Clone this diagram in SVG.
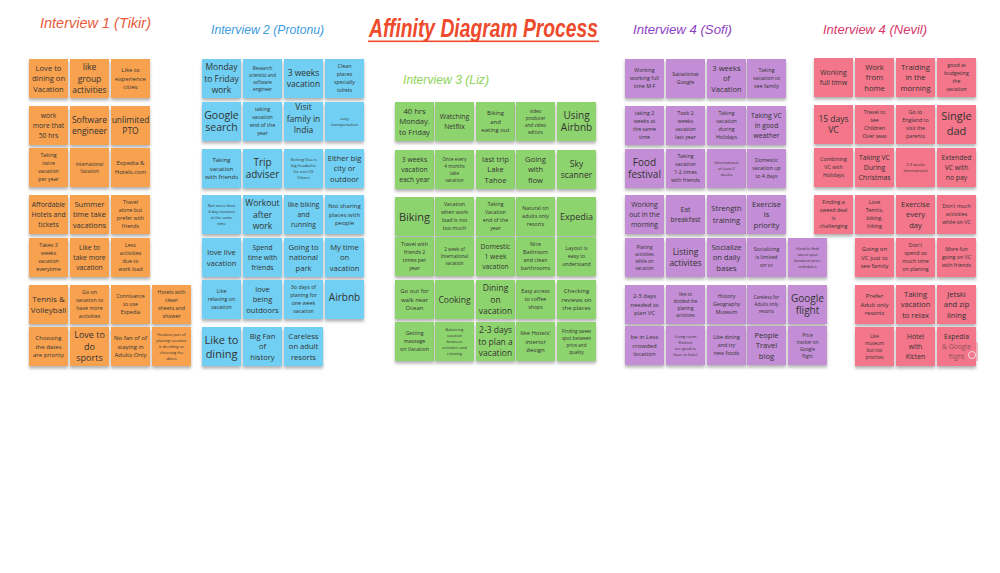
<svg xmlns="http://www.w3.org/2000/svg" width="1000" height="573" viewBox="0 0 1000 573">
<defs>
<filter id="sh" x="-20%" y="-20%" width="140%" height="150%"><feDropShadow dx="0" dy="2.5" stdDeviation="1.4" flood-color="#000" flood-opacity="0.3"/></filter>
</defs>
<style>
rect.n{filter:url(#sh)}
.or rect{fill:#F8A24F}
.bl rect{fill:#6FCFF2}
.gr rect{fill:#8ED46E}
.pu rect{fill:#C38ED6}
.rd rect{fill:#F3768A}
text{font-family:"Open Sans","Noto Sans",sans-serif;fill:#333;text-anchor:middle}
.a{font-size:4px}.b{font-size:4.6px}.c{font-size:5.3px}.d{font-size:6px}.e{font-size:6.8px}.f{font-size:7.6px}.g{font-size:8.5px}.h{font-size:10px}.i{font-size:11px}
#titles text{font-family:"Liberation Sans","Noto Sans",sans-serif;font-style:italic;text-anchor:start}
#titles .t1{fill:#E85A3C}
#titles .t2{fill:#3D9BE0}
#titles .t0{fill:#EE4A2C;font-weight:bold}
#titles .t3{fill:#8FD45A}
#titles .t4{fill:#8E3FC4}
#titles .t5{fill:#D8386A}
</style>
<rect width="1000" height="573" fill="#fff"/>
<g id="titles">
<text class="t1" x="40" y="28" font-size="14.5" textLength="111" lengthAdjust="spacingAndGlyphs">Interview 1 (Tikir)</text>
<text class="t2" x="211" y="34" font-size="12.2" textLength="113" lengthAdjust="spacingAndGlyphs">Interview 2 (Protonu)</text>
<text class="t0" transform="translate(369,37) scale(1,1.4)" x="0" y="0" font-size="18.6" textLength="229" lengthAdjust="spacingAndGlyphs">Affinity Diagram Process</text>
<rect x="368" y="40.5" width="231" height="1.6" fill="#EE4A2C"/>
<text class="t3" x="403" y="84" font-size="12.2" textLength="86" lengthAdjust="spacingAndGlyphs">Interview 3 (Liz)</text>
<text class="t4" x="633" y="34" font-size="13.2" textLength="99" lengthAdjust="spacingAndGlyphs">Interview 4 (Sofi)</text>
<text class="t5" x="823" y="34" font-size="13" textLength="104" lengthAdjust="spacingAndGlyphs">Interview 4 (Nevil)</text>
</g>
<g id="interview1" class="or">
<g id="o1"><rect class="n" x="29" y="59" width="39" height="39"/><text class="f" x="48.5" y="70.6"><tspan x="48.5">Love to</tspan><tspan x="48.5" dy="10.6">dining on</tspan><tspan x="48.5" dy="10.6">Vacation</tspan></text></g>
<g id="o2"><rect class="n" x="70" y="59" width="39" height="39"/><text class="g" x="89.5" y="70.4"><tspan x="89.5">like</tspan><tspan x="89.5" dy="11.2">group</tspan><tspan x="89.5" dy="11.2">activities</tspan></text></g>
<g id="o3"><rect class="n" x="111" y="59" width="39" height="39"/><text class="d" x="130.5" y="72.1"><tspan x="130.5">Like to</tspan><tspan x="130.5" dy="8.6">experience</tspan><tspan x="130.5" dy="8.6">cities</tspan></text></g>
<g id="o4"><rect class="n" x="29" y="106" width="39" height="39"/><text class="e" x="48.5" y="118.3"><tspan x="48.5">work</tspan><tspan x="48.5" dy="9.6">more that</tspan><tspan x="48.5" dy="9.6">50 hrs</tspan></text></g>
<g id="o5"><rect class="n" x="70" y="106" width="39" height="39"/><text class="g" x="89.5" y="123"><tspan x="89.5">Software</tspan><tspan x="89.5" dy="11.2">engineer</tspan></text></g>
<g id="o6"><rect class="n" x="111" y="106" width="39" height="39"/><text class="g" x="130.5" y="123"><tspan x="130.5">unlimited</tspan><tspan x="130.5" dy="11.2">PTO</tspan></text></g>
<g id="o7"><rect class="n" x="29" y="148" width="39" height="39"/><text class="c" x="48.5" y="157.4"><tspan x="48.5">Taking</tspan><tspan x="48.5" dy="8">twice</tspan><tspan x="48.5" dy="8">vacation</tspan><tspan x="48.5" dy="8">per year</tspan></text></g>
<g id="o8"><rect class="n" x="70" y="148" width="39" height="39"/><text class="b" x="89.5" y="165.7"><tspan x="89.5">International</tspan><tspan x="89.5" dy="7">Vacation</tspan></text></g>
<g id="o9"><rect class="n" x="111" y="148" width="39" height="39"/><text class="d" x="130.5" y="165.4"><tspan x="130.5">Expedia &amp;</tspan><tspan x="130.5" dy="8.6">Hotels.com</tspan></text></g>
<g id="o10"><rect class="n" x="29" y="195" width="39" height="39"/><text class="e" x="48.5" y="207.3"><tspan x="48.5">Affordable</tspan><tspan x="48.5" dy="9.6">Hotels and</tspan><tspan x="48.5" dy="9.6">tickets</tspan></text></g>
<g id="o11"><rect class="n" x="70" y="195" width="39" height="39"/><text class="f" x="89.5" y="206.6"><tspan x="89.5">Summer</tspan><tspan x="89.5" dy="10.6">time take</tspan><tspan x="89.5" dy="10.6">vacations</tspan></text></g>
<g id="o12"><rect class="n" x="111" y="195" width="39" height="39"/><text class="c" x="130.5" y="204.4"><tspan x="130.5">Travel</tspan><tspan x="130.5" dy="8">alone but</tspan><tspan x="130.5" dy="8">prefer with</tspan><tspan x="130.5" dy="8">friends</tspan></text></g>
<g id="o13"><rect class="n" x="29" y="238" width="39" height="39"/><text class="c" x="48.5" y="247.4"><tspan x="48.5">Takes 3</tspan><tspan x="48.5" dy="8">weeks</tspan><tspan x="48.5" dy="8">vacation</tspan><tspan x="48.5" dy="8">everytime</tspan></text></g>
<g id="o14"><rect class="n" x="70" y="238" width="39" height="39"/><text class="e" x="89.5" y="250.3"><tspan x="89.5">Like to</tspan><tspan x="89.5" dy="9.6">take more</tspan><tspan x="89.5" dy="9.6">vacation</tspan></text></g>
<g id="o15"><rect class="n" x="111" y="238" width="39" height="39"/><text class="c" x="130.5" y="247.4"><tspan x="130.5">Less</tspan><tspan x="130.5" dy="8">activities</tspan><tspan x="130.5" dy="8">due to</tspan><tspan x="130.5" dy="8">work load</tspan></text></g>
<g id="o16"><rect class="n" x="29" y="285" width="39" height="39"/><text class="g" x="48.5" y="302" style="font-size:8px"><tspan x="48.5">Tennis &amp;</tspan><tspan x="48.5" dy="11.2">Volleyball</tspan></text></g>
<g id="o17"><rect class="n" x="70" y="285" width="39" height="39"/><text class="c" x="89.5" y="294.4"><tspan x="89.5">Go on</tspan><tspan x="89.5" dy="8">vacation to</tspan><tspan x="89.5" dy="8">have more</tspan><tspan x="89.5" dy="8">activities</tspan></text></g>
<g id="o18"><rect class="n" x="111" y="285" width="39" height="39"/><text class="c" x="130.5" y="298.4"><tspan x="130.5">Connivance</tspan><tspan x="130.5" dy="8">to use</tspan><tspan x="130.5" dy="8">Expedia</tspan></text></g>
<g id="o19"><rect class="n" x="152" y="285" width="39" height="39"/><text class="c" x="171.5" y="294.4"><tspan x="171.5">Hotels with</tspan><tspan x="171.5" dy="8">clean</tspan><tspan x="171.5" dy="8">sheets and</tspan><tspan x="171.5" dy="8">shower</tspan></text></g>
<g id="o20"><rect class="n" x="29" y="327" width="39" height="39"/><text class="d" x="48.5" y="340.1"><tspan x="48.5">Choosing</tspan><tspan x="48.5" dy="8.6">the dates</tspan><tspan x="48.5" dy="8.6">are priority</tspan></text></g>
<g id="o21"><rect class="n" x="70" y="327" width="39" height="39"/><text class="g" x="89.5" y="338.4" style="font-size:9px"><tspan x="89.5">Love to</tspan><tspan x="89.5" dy="11.2">do</tspan><tspan x="89.5" dy="11.2">sports</tspan></text></g>
<g id="o22"><rect class="n" x="111" y="327" width="39" height="39"/><text class="d" x="130.5" y="340.1"><tspan x="130.5">No fan of of</tspan><tspan x="130.5" dy="8.6">staying in</tspan><tspan x="130.5" dy="8.6">Adults Only</tspan></text></g>
<g id="o23"><rect class="n" x="152" y="327" width="39" height="39"/><text class="a" x="171.5" y="335.9"><tspan x="171.5">Hardest part of</tspan><tspan x="171.5" dy="6">planing vacation</tspan><tspan x="171.5" dy="6">is deciding on</tspan><tspan x="171.5" dy="6">choosing the</tspan><tspan x="171.5" dy="6">dates</tspan></text></g>
</g>
<g id="interview2" class="bl">
<g id="b1"><rect class="n" x="202" y="59" width="39" height="39"/><text class="g" x="221.5" y="70.4"><tspan x="221.5">Monday</tspan><tspan x="221.5" dy="11.2">to Friday</tspan><tspan x="221.5" dy="11.2">work</tspan></text></g>
<g id="b2"><rect class="n" x="243" y="59" width="39" height="39"/><text class="b" x="262.5" y="69.7"><tspan x="262.5">Research</tspan><tspan x="262.5" dy="7">scientist and</tspan><tspan x="262.5" dy="7">software</tspan><tspan x="262.5" dy="7">engineer</tspan></text></g>
<g id="b3"><rect class="n" x="284" y="59" width="39" height="39"/><text class="g" x="303.5" y="76"><tspan x="303.5">3 weeks</tspan><tspan x="303.5" dy="11.2">vacation</tspan></text></g>
<g id="b4"><rect class="n" x="325" y="59" width="39" height="39"/><text class="c" x="344.5" y="68.4"><tspan x="344.5">Clean</tspan><tspan x="344.5" dy="8">places</tspan><tspan x="344.5" dy="8">specially</tspan><tspan x="344.5" dy="8">toilets</tspan></text></g>
<g id="b5"><rect class="n" x="202" y="102" width="39" height="39"/><text class="h" x="221.5" y="118.8" style="font-size:10.5px"><tspan x="221.5">Google</tspan><tspan x="221.5" dy="12.5">search</tspan></text></g>
<g id="b6"><rect class="n" x="243" y="102" width="39" height="39"/><text class="c" x="262.5" y="111.4"><tspan x="262.5">taking</tspan><tspan x="262.5" dy="8">vacation</tspan><tspan x="262.5" dy="8">end of the</tspan><tspan x="262.5" dy="8">year</tspan></text></g>
<g id="b7"><rect class="n" x="284" y="102" width="39" height="39"/><text class="g" x="303.5" y="110.4"><tspan x="303.5">Visit</tspan><tspan x="303.5" dy="11.2">family in</tspan><tspan x="303.5" dy="11.2">India</tspan></text></g>
<g id="b8"><rect class="n" x="325" y="102" width="39" height="39"/><text class="a" x="344.5" y="119.9"><tspan x="344.5">easy</tspan><tspan x="344.5" dy="6">transportation</tspan></text></g>
<g id="b9"><rect class="n" x="202" y="149" width="39" height="39"/><text class="d" x="221.5" y="162.1"><tspan x="221.5">Taking</tspan><tspan x="221.5" dy="8.6">vacation</tspan><tspan x="221.5" dy="8.6">with friends</tspan></text></g>
<g id="b10"><rect class="n" x="243" y="149" width="39" height="39"/><text class="h" x="262.5" y="165.8"><tspan x="262.5">Trip</tspan><tspan x="262.5" dy="12.5">adviser</tspan></text></g>
<g id="b11"><rect class="n" x="284" y="149" width="39" height="39"/><text class="a" x="303.5" y="160.9"><tspan x="303.5">Getting Visa is</tspan><tspan x="303.5" dy="6">big headache</tspan><tspan x="303.5" dy="6">for non US</tspan><tspan x="303.5" dy="6">Citizen</tspan></text></g>
<g id="b12"><rect class="n" x="325" y="149" width="39" height="39"/><text class="f" x="344.5" y="160.6"><tspan x="344.5">Either big</tspan><tspan x="344.5" dy="10.6">city or</tspan><tspan x="344.5" dy="10.6">outdoor</tspan></text></g>
<g id="b13"><rect class="n" x="202" y="195" width="39" height="39"/><text class="a" x="221.5" y="206.9"><tspan x="221.5">Not more than</tspan><tspan x="221.5" dy="6">4 day vacation</tspan><tspan x="221.5" dy="6">at the same</tspan><tspan x="221.5" dy="6">time</tspan></text></g>
<g id="b14"><rect class="n" x="243" y="195" width="39" height="39"/><text class="g" x="262.5" y="206.4"><tspan x="262.5">Workout</tspan><tspan x="262.5" dy="11.2">after</tspan><tspan x="262.5" dy="11.2">work</tspan></text></g>
<g id="b15"><rect class="n" x="284" y="195" width="39" height="39"/><text class="e" x="303.5" y="207.3"><tspan x="303.5">like biking</tspan><tspan x="303.5" dy="9.6">and</tspan><tspan x="303.5" dy="9.6">running</tspan></text></g>
<g id="b16"><rect class="n" x="325" y="195" width="39" height="39"/><text class="d" x="344.5" y="208.1"><tspan x="344.5">Not sharing</tspan><tspan x="344.5" dy="8.6">places with</tspan><tspan x="344.5" dy="8.6">people</tspan></text></g>
<g id="b17"><rect class="n" x="202" y="238" width="39" height="39"/><text class="f" x="221.5" y="254.9"><tspan x="221.5">love live</tspan><tspan x="221.5" dy="10.6">vacation</tspan></text></g>
<g id="b18"><rect class="n" x="243" y="238" width="39" height="39"/><text class="e" x="262.5" y="250.3"><tspan x="262.5">Spend</tspan><tspan x="262.5" dy="9.6">time with</tspan><tspan x="262.5" dy="9.6">friends</tspan></text></g>
<g id="b19"><rect class="n" x="284" y="238" width="39" height="39"/><text class="f" x="303.5" y="249.6"><tspan x="303.5">Going to</tspan><tspan x="303.5" dy="10.6">national</tspan><tspan x="303.5" dy="10.6">park</tspan></text></g>
<g id="b20"><rect class="n" x="325" y="238" width="39" height="39"/><text class="f" x="344.5" y="249.6"><tspan x="344.5">My time</tspan><tspan x="344.5" dy="10.6">on</tspan><tspan x="344.5" dy="10.6">vacation</tspan></text></g>
<g id="b21"><rect class="n" x="202" y="280" width="39" height="39"/><text class="c" x="221.5" y="293.4"><tspan x="221.5">Like</tspan><tspan x="221.5" dy="8">relaxing on</tspan><tspan x="221.5" dy="8">vacation</tspan></text></g>
<g id="b22"><rect class="n" x="243" y="280" width="39" height="39"/><text class="f" x="262.5" y="291.6"><tspan x="262.5">love</tspan><tspan x="262.5" dy="10.6">being</tspan><tspan x="262.5" dy="10.6">outdoors</tspan></text></g>
<g id="b23"><rect class="n" x="284" y="280" width="39" height="39"/><text class="c" x="303.5" y="289.4"><tspan x="303.5">3o days of</tspan><tspan x="303.5" dy="8">planing for</tspan><tspan x="303.5" dy="8">one week</tspan><tspan x="303.5" dy="8">vacation</tspan></text></g>
<g id="b24"><rect class="n" x="325" y="280" width="39" height="39"/><text class="h" x="344.5" y="300.5"><tspan x="344.5">Airbnb</tspan></text></g>
<g id="b25"><rect class="n" x="202" y="327" width="39" height="39"/><text class="i" x="221.5" y="343.5"><tspan x="221.5">Like to</tspan><tspan x="221.5" dy="14">dining</tspan></text></g>
<g id="b26"><rect class="n" x="243" y="327" width="39" height="39"/><text class="f" x="262.5" y="338.6"><tspan x="262.5">Big Fan</tspan><tspan x="262.5" dy="10.6">of</tspan><tspan x="262.5" dy="10.6">history</tspan></text></g>
<g id="b27"><rect class="n" x="284" y="327" width="39" height="39"/><text class="f" x="303.5" y="338.6"><tspan x="303.5">Careless</tspan><tspan x="303.5" dy="10.6">on adult</tspan><tspan x="303.5" dy="10.6">resorts</tspan></text></g>
</g>
<g id="interview3" class="gr">
<g id="g1"><rect class="n" x="395" y="102" width="39" height="39"/><text class="f" x="414.5" y="113.6"><tspan x="414.5">40 hrs</tspan><tspan x="414.5" dy="10.6">Monday.</tspan><tspan x="414.5" dy="10.6">to Friday</tspan></text></g>
<g id="g2"><rect class="n" x="435" y="102" width="39" height="39"/><text class="e" x="454.5" y="119.1"><tspan x="454.5">Watching</tspan><tspan x="454.5" dy="9.6">Netflix</tspan></text></g>
<g id="g3"><rect class="n" x="476" y="102" width="39" height="39"/><text class="d" x="495.5" y="115.1"><tspan x="495.5">Biking</tspan><tspan x="495.5" dy="8.6">and</tspan><tspan x="495.5" dy="8.6">eating out</tspan></text></g>
<g id="g4"><rect class="n" x="516" y="102" width="39" height="39"/><text class="b" x="535.5" y="112.7"><tspan x="535.5">video</tspan><tspan x="535.5" dy="7">producer</tspan><tspan x="535.5" dy="7">and video</tspan><tspan x="535.5" dy="7">editors</tspan></text></g>
<g id="g5"><rect class="n" x="557" y="102" width="39" height="39"/><text class="h" x="576.5" y="118.8"><tspan x="576.5">Using</tspan><tspan x="576.5" dy="12.5">Airbnb</tspan></text></g>
<g id="g6"><rect class="n" x="395" y="150" width="39" height="39"/><text class="e" x="414.5" y="162.3"><tspan x="414.5">3 weeks</tspan><tspan x="414.5" dy="9.6">vacation</tspan><tspan x="414.5" dy="9.6">each year</tspan></text></g>
<g id="g7"><rect class="n" x="435" y="150" width="39" height="39"/><text class="b" x="454.5" y="160.7"><tspan x="454.5">Once every</tspan><tspan x="454.5" dy="7">4 months</tspan><tspan x="454.5" dy="7">take</tspan><tspan x="454.5" dy="7">vacation</tspan></text></g>
<g id="g8"><rect class="n" x="476" y="150" width="39" height="39"/><text class="f" x="495.5" y="161.6"><tspan x="495.5">last trip</tspan><tspan x="495.5" dy="10.6">Lake</tspan><tspan x="495.5" dy="10.6">Tahoe</tspan></text></g>
<g id="g9"><rect class="n" x="516" y="150" width="39" height="39"/><text class="f" x="535.5" y="161.6"><tspan x="535.5">Going</tspan><tspan x="535.5" dy="10.6">with</tspan><tspan x="535.5" dy="10.6">flow</tspan></text></g>
<g id="g10"><rect class="n" x="557" y="150" width="39" height="39"/><text class="g" x="576.5" y="167"><tspan x="576.5">Sky</tspan><tspan x="576.5" dy="11.2">scanner</tspan></text></g>
<g id="g11"><rect class="n" x="395" y="197" width="39" height="39"/><text class="i" x="414.5" y="220.5"><tspan x="414.5">Biking</tspan></text></g>
<g id="g12"><rect class="n" x="435" y="197" width="39" height="39"/><text class="c" x="454.5" y="206.4"><tspan x="454.5">Vacation</tspan><tspan x="454.5" dy="8">when work</tspan><tspan x="454.5" dy="8">load is not</tspan><tspan x="454.5" dy="8">too much</tspan></text></g>
<g id="g13"><rect class="n" x="476" y="197" width="39" height="39"/><text class="c" x="495.5" y="206.4"><tspan x="495.5">Taking</tspan><tspan x="495.5" dy="8">Vacation</tspan><tspan x="495.5" dy="8">end of the</tspan><tspan x="495.5" dy="8">year</tspan></text></g>
<g id="g14"><rect class="n" x="516" y="197" width="39" height="39"/><text class="c" x="535.5" y="210.4"><tspan x="535.5">Natural on</tspan><tspan x="535.5" dy="8">adults only</tspan><tspan x="535.5" dy="8">resorts</tspan></text></g>
<g id="g15"><rect class="n" x="557" y="197" width="39" height="39"/><text class="g" x="576.5" y="219.6" style="font-size:9px"><tspan x="576.5">Expedia</tspan></text></g>
<g id="g16"><rect class="n" x="395" y="237" width="39" height="39"/><text class="c" x="414.5" y="246.4"><tspan x="414.5">Travel with</tspan><tspan x="414.5" dy="8">friends 2</tspan><tspan x="414.5" dy="8">times per</tspan><tspan x="414.5" dy="8">year</tspan></text></g>
<g id="g17"><rect class="n" x="435" y="237" width="39" height="39"/><text class="b" x="454.5" y="251.2"><tspan x="454.5">2 week of</tspan><tspan x="454.5" dy="7">International</tspan><tspan x="454.5" dy="7">vacation</tspan></text></g>
<g id="g18"><rect class="n" x="476" y="237" width="39" height="39"/><text class="e" x="495.5" y="249.3"><tspan x="495.5">Domestic</tspan><tspan x="495.5" dy="9.6">1 week</tspan><tspan x="495.5" dy="9.6">vacation</tspan></text></g>
<g id="g19"><rect class="n" x="516" y="237" width="39" height="39"/><text class="c" x="535.5" y="246.4"><tspan x="535.5">Nice</tspan><tspan x="535.5" dy="8">Bathroom</tspan><tspan x="535.5" dy="8">and clean</tspan><tspan x="535.5" dy="8">barthrooms</tspan></text></g>
<g id="g20"><rect class="n" x="557" y="237" width="39" height="39"/><text class="c" x="576.5" y="250.4"><tspan x="576.5">Layout is</tspan><tspan x="576.5" dy="8">easy to</tspan><tspan x="576.5" dy="8">understand</tspan></text></g>
<g id="g21"><rect class="n" x="395" y="280" width="39" height="39"/><text class="d" x="414.5" y="293.1"><tspan x="414.5">Go out for</tspan><tspan x="414.5" dy="8.6">walk near</tspan><tspan x="414.5" dy="8.6">Ocean</tspan></text></g>
<g id="g22"><rect class="n" x="435" y="280" width="39" height="39"/><text class="g" x="454.5" y="302.6"><tspan x="454.5">Cooking</tspan></text></g>
<g id="g23"><rect class="n" x="476" y="280" width="39" height="39"/><text class="g" x="495.5" y="291.4"><tspan x="495.5">Dining</tspan><tspan x="495.5" dy="11.2">on</tspan><tspan x="495.5" dy="11.2">vacation</tspan></text></g>
<g id="g24"><rect class="n" x="516" y="280" width="39" height="39"/><text class="c" x="535.5" y="293.4"><tspan x="535.5">Easy access</tspan><tspan x="535.5" dy="8">to coffee</tspan><tspan x="535.5" dy="8">shops</tspan></text></g>
<g id="g25"><rect class="n" x="557" y="280" width="39" height="39"/><text class="d" x="576.5" y="293.1"><tspan x="576.5">Checking</tspan><tspan x="576.5" dy="8.6">reviews on</tspan><tspan x="576.5" dy="8.6">the places</tspan></text></g>
<g id="g26"><rect class="n" x="395" y="322" width="39" height="39"/><text class="c" x="414.5" y="335.4"><tspan x="414.5">Getting</tspan><tspan x="414.5" dy="8">massage</tspan><tspan x="414.5" dy="8">on Vacation</tspan></text></g>
<g id="g27"><rect class="n" x="435" y="322" width="39" height="39"/><text class="a" x="454.5" y="330.9"><tspan x="454.5">Balancing</tspan><tspan x="454.5" dy="6">vacation</tspan><tspan x="454.5" dy="6">between</tspan><tspan x="454.5" dy="6">activities and</tspan><tspan x="454.5" dy="6">relaxing</tspan></text></g>
<g id="g28"><rect class="n" x="476" y="322" width="39" height="39"/><text class="g" x="495.5" y="333.4"><tspan x="495.5">2-3 days</tspan><tspan x="495.5" dy="11.2">to plan a</tspan><tspan x="495.5" dy="11.2">vacation</tspan></text></g>
<g id="g29"><rect class="n" x="516" y="322" width="39" height="39"/><text class="d" x="535.5" y="335.1"><tspan x="535.5">like Hotels'</tspan><tspan x="535.5" dy="8.6">interior</tspan><tspan x="535.5" dy="8.6">design</tspan></text></g>
<g id="g30"><rect class="n" x="557" y="322" width="39" height="39"/><text class="b" x="576.5" y="332.7"><tspan x="576.5">Finding sweet</tspan><tspan x="576.5" dy="7">spot between</tspan><tspan x="576.5" dy="7">price and</tspan><tspan x="576.5" dy="7">quality</tspan></text></g>
</g>
<g id="interview4sofi" class="pu">
<g id="p1"><rect class="n" x="625" y="59" width="39" height="39"/><text class="c" x="644.5" y="72.4"><tspan x="644.5">Working</tspan><tspan x="644.5" dy="8">working full</tspan><tspan x="644.5" dy="8">time M-F</tspan></text></g>
<g id="p2"><rect class="n" x="666" y="59" width="39" height="39"/><text class="c" x="685.5" y="76.4"><tspan x="685.5">Satiationat</tspan><tspan x="685.5" dy="8">Google</tspan></text></g>
<g id="p3"><rect class="n" x="707" y="59" width="39" height="39"/><text class="f" x="726.5" y="70.6"><tspan x="726.5">3 weeks</tspan><tspan x="726.5" dy="10.6">of</tspan><tspan x="726.5" dy="10.6">Vacation</tspan></text></g>
<g id="p4"><rect class="n" x="747" y="59" width="39" height="39"/><text class="c" x="766.5" y="72.4"><tspan x="766.5">Taking</tspan><tspan x="766.5" dy="8">vacation to</tspan><tspan x="766.5" dy="8">see family</tspan></text></g>
<g id="p5"><rect class="n" x="625" y="106" width="39" height="39"/><text class="c" x="644.5" y="115.4"><tspan x="644.5">taking 2</tspan><tspan x="644.5" dy="8">weeks at</tspan><tspan x="644.5" dy="8">the same</tspan><tspan x="644.5" dy="8">time</tspan></text></g>
<g id="p6"><rect class="n" x="666" y="106" width="39" height="39"/><text class="c" x="685.5" y="115.4"><tspan x="685.5">Took 2</tspan><tspan x="685.5" dy="8">weeks</tspan><tspan x="685.5" dy="8">vacation</tspan><tspan x="685.5" dy="8">last year</tspan></text></g>
<g id="p7"><rect class="n" x="707" y="106" width="39" height="39"/><text class="c" x="726.5" y="115.4"><tspan x="726.5">Taking</tspan><tspan x="726.5" dy="8">vacation</tspan><tspan x="726.5" dy="8">during</tspan><tspan x="726.5" dy="8">Holidays</tspan></text></g>
<g id="p8"><rect class="n" x="747" y="106" width="39" height="39"/><text class="e" x="766.5" y="118.3"><tspan x="766.5">Taking VC</tspan><tspan x="766.5" dy="9.6">in good</tspan><tspan x="766.5" dy="9.6">weather</tspan></text></g>
<g id="p9"><rect class="n" x="625" y="149" width="39" height="39"/><text class="h" x="644.5" y="165.8"><tspan x="644.5">Food</tspan><tspan x="644.5" dy="12.5">festival</tspan></text></g>
<g id="p10"><rect class="n" x="666" y="149" width="39" height="39"/><text class="c" x="685.5" y="158.4"><tspan x="685.5">Taking</tspan><tspan x="685.5" dy="8">vacation</tspan><tspan x="685.5" dy="8">1-2 times</tspan><tspan x="685.5" dy="8">with friends</tspan></text></g>
<g id="p11"><rect class="n" x="707" y="149" width="39" height="39"/><text class="a" x="726.5" y="163.9"><tspan x="726.5">International</tspan><tspan x="726.5" dy="6">at least 2</tspan><tspan x="726.5" dy="6">weeks</tspan></text></g>
<g id="p12"><rect class="n" x="747" y="149" width="39" height="39"/><text class="c" x="766.5" y="162.4"><tspan x="766.5">Domestic</tspan><tspan x="766.5" dy="8">vacation up</tspan><tspan x="766.5" dy="8">to 4 days</tspan></text></g>
<g id="p13"><rect class="n" x="625" y="195" width="39" height="39"/><text class="e" x="644.5" y="207.3"><tspan x="644.5">Working</tspan><tspan x="644.5" dy="9.6">out in the</tspan><tspan x="644.5" dy="9.6">morning</tspan></text></g>
<g id="p14"><rect class="n" x="666" y="195" width="39" height="39"/><text class="e" x="685.5" y="211.6"><tspan x="685.5">Eat</tspan><tspan x="685.5" dy="10.6">breakfast</tspan></text></g>
<g id="p15"><rect class="n" x="707" y="195" width="39" height="39"/><text class="f" x="726.5" y="211"><tspan x="726.5">Strength</tspan><tspan x="726.5" dy="11.5">training</tspan></text></g>
<g id="p16"><rect class="n" x="747" y="195" width="39" height="39"/><text class="f" x="766.5" y="206.6"><tspan x="766.5">Exercise</tspan><tspan x="766.5" dy="10.6">is</tspan><tspan x="766.5" dy="10.6">priority</tspan></text></g>
<g id="p17"><rect class="n" x="625" y="238" width="39" height="39"/><text class="b" x="644.5" y="248.7"><tspan x="644.5">Planing</tspan><tspan x="644.5" dy="7">activities</tspan><tspan x="644.5" dy="7">while on</tspan><tspan x="644.5" dy="7">vacation</tspan></text></g>
<g id="p18"><rect class="n" x="666" y="238" width="39" height="39"/><text class="g" x="685.5" y="255"><tspan x="685.5">Listing</tspan><tspan x="685.5" dy="11.2">activites</tspan></text></g>
<g id="p19"><rect class="n" x="707" y="238" width="39" height="39"/><text class="f" x="726.5" y="249.6"><tspan x="726.5">Socialize</tspan><tspan x="726.5" dy="10.6">on daily</tspan><tspan x="726.5" dy="10.6">bases</tspan></text></g>
<g id="p20"><rect class="n" x="747" y="238" width="39" height="39"/><text class="c" x="766.5" y="251.4"><tspan x="766.5">Socializing</tspan><tspan x="766.5" dy="8">is limited</tspan><tspan x="766.5" dy="8">on vc</tspan></text></g>
<g id="p21"><rect class="n" x="788" y="238" width="39" height="39"/><text class="a" x="807.5" y="249.9"><tspan x="807.5">Hard to find</tspan><tspan x="807.5" dy="6">sweet spot</tspan><tspan x="807.5" dy="6">between price</tspan><tspan x="807.5" dy="6">and dates</tspan></text></g>
<g id="p22"><rect class="n" x="625" y="285" width="39" height="39"/><text class="d" x="644.5" y="298.1"><tspan x="644.5">2-3 days</tspan><tspan x="644.5" dy="8.6">needed to</tspan><tspan x="644.5" dy="8.6">plan VC</tspan></text></g>
<g id="p23"><rect class="n" x="666" y="285" width="39" height="39"/><text class="b" x="685.5" y="295.7"><tspan x="685.5">like to</tspan><tspan x="685.5" dy="7">divided the</tspan><tspan x="685.5" dy="7">planing</tspan><tspan x="685.5" dy="7">activities</tspan></text></g>
<g id="p24"><rect class="n" x="707" y="285" width="39" height="39"/><text class="c" x="726.5" y="298.4"><tspan x="726.5">History</tspan><tspan x="726.5" dy="8">Geography</tspan><tspan x="726.5" dy="8">Museum</tspan></text></g>
<g id="p25"><rect class="n" x="747" y="285" width="39" height="39"/><text class="b" x="766.5" y="299.2"><tspan x="766.5">Careless for</tspan><tspan x="766.5" dy="7">Adults only</tspan><tspan x="766.5" dy="7">resorts</tspan></text></g>
<g id="p26"><rect class="n" x="788" y="285" width="39" height="39"/><text class="h" x="807.5" y="301.8"><tspan x="807.5">Google</tspan><tspan x="807.5" dy="12.5">flight</tspan></text></g>
<g id="p27"><rect class="n" x="625" y="326" width="39" height="39"/><text class="d" x="644.5" y="339.1"><tspan x="644.5">be in Less</tspan><tspan x="644.5" dy="8.6">crowded</tspan><tspan x="644.5" dy="8.6">location</tspan></text></g>
<g id="p28"><rect class="n" x="666" y="326" width="39" height="39"/><text class="a" x="685.5" y="337.9"><tspan x="685.5">Living room</tspan><tspan x="685.5" dy="6">Kitchen</tspan><tspan x="685.5" dy="6">are good to</tspan><tspan x="685.5" dy="6">have in hotel</tspan></text></g>
<g id="p29"><rect class="n" x="707" y="326" width="39" height="39"/><text class="c" x="726.5" y="339.4"><tspan x="726.5">Like dining</tspan><tspan x="726.5" dy="8">and try</tspan><tspan x="726.5" dy="8">new foods</tspan></text></g>
<g id="p30"><rect class="n" x="747" y="326" width="39" height="39"/><text class="f" x="766.5" y="337.6"><tspan x="766.5">People</tspan><tspan x="766.5" dy="10.6">Travel</tspan><tspan x="766.5" dy="10.6">blog</tspan></text></g>
<g id="p31"><rect class="n" x="788" y="326" width="39" height="39"/><text class="b" x="807.5" y="336.7"><tspan x="807.5">Price</tspan><tspan x="807.5" dy="7">tracker on</tspan><tspan x="807.5" dy="7">Google</tspan><tspan x="807.5" dy="7">flight</tspan></text></g>
</g>
<g id="interview4nevil" class="rd">
<g id="r1"><rect class="n" x="814" y="58" width="39" height="39"/><text class="e" x="833.5" y="75.1"><tspan x="833.5">Working</tspan><tspan x="833.5" dy="9.6">full timw</tspan></text></g>
<g id="r2"><rect class="n" x="855" y="58" width="39" height="39"/><text class="f" x="874.5" y="69.6"><tspan x="874.5">Work</tspan><tspan x="874.5" dy="10.6">from</tspan><tspan x="874.5" dy="10.6">home</tspan></text></g>
<g id="r3"><rect class="n" x="896" y="58" width="39" height="39"/><text class="f" x="915.5" y="69.6"><tspan x="915.5">Traiding</tspan><tspan x="915.5" dy="10.6">in the</tspan><tspan x="915.5" dy="10.6">morning</tspan></text></g>
<g id="r4"><rect class="n" x="937" y="58" width="39" height="39"/><text class="c" x="956.5" y="67.4"><tspan x="956.5">good at</tspan><tspan x="956.5" dy="8">budgeting</tspan><tspan x="956.5" dy="8">the</tspan><tspan x="956.5" dy="8">vacation</tspan></text></g>
<g id="r5"><rect class="n" x="814" y="105" width="39" height="39"/><text class="g" x="833.5" y="122"><tspan x="833.5">15 days</tspan><tspan x="833.5" dy="11.2">VC</tspan></text></g>
<g id="r6"><rect class="n" x="855" y="105" width="39" height="39"/><text class="c" x="874.5" y="114.4"><tspan x="874.5">Travel to</tspan><tspan x="874.5" dy="8">see</tspan><tspan x="874.5" dy="8">Children</tspan><tspan x="874.5" dy="8">Over seas</tspan></text></g>
<g id="r7"><rect class="n" x="896" y="105" width="39" height="39"/><text class="c" x="915.5" y="114.4"><tspan x="915.5">Go to</tspan><tspan x="915.5" dy="8">England to</tspan><tspan x="915.5" dy="8">visit the</tspan><tspan x="915.5" dy="8">parents</tspan></text></g>
<g id="r8"><rect class="n" x="937" y="105" width="39" height="39"/><text class="i" x="956.5" y="120"><tspan x="956.5">Single</tspan><tspan x="956.5" dy="15">dad</tspan></text></g>
<g id="r9"><rect class="n" x="814" y="148" width="39" height="39"/><text class="c" x="833.5" y="161.4"><tspan x="833.5">Combining</tspan><tspan x="833.5" dy="8">VC with</tspan><tspan x="833.5" dy="8">Holidays</tspan></text></g>
<g id="r10"><rect class="n" x="855" y="148" width="39" height="39"/><text class="e" x="874.5" y="160.3"><tspan x="874.5">Taking VC</tspan><tspan x="874.5" dy="9.6">During</tspan><tspan x="874.5" dy="9.6">Christmas</tspan></text></g>
<g id="r11"><rect class="n" x="896" y="148" width="39" height="39"/><text class="a" x="915.5" y="165.9"><tspan x="915.5">2-3 weeks</tspan><tspan x="915.5" dy="6">international</tspan></text></g>
<g id="r12"><rect class="n" x="937" y="148" width="39" height="39"/><text class="e" x="956.5" y="160.3"><tspan x="956.5">Extended</tspan><tspan x="956.5" dy="9.6">VC with</tspan><tspan x="956.5" dy="9.6">no pay</tspan></text></g>
<g id="r13"><rect class="n" x="814" y="195" width="39" height="39"/><text class="c" x="833.5" y="204.4"><tspan x="833.5">Finding a</tspan><tspan x="833.5" dy="8">sweed deal</tspan><tspan x="833.5" dy="8">is</tspan><tspan x="833.5" dy="8">challenging</tspan></text></g>
<g id="r14"><rect class="n" x="855" y="195" width="39" height="39"/><text class="c" x="874.5" y="204.4"><tspan x="874.5">Love</tspan><tspan x="874.5" dy="8">Tennis,</tspan><tspan x="874.5" dy="8">biking,</tspan><tspan x="874.5" dy="8">hiking</tspan></text></g>
<g id="r15"><rect class="n" x="896" y="195" width="39" height="39"/><text class="f" x="915.5" y="206.6"><tspan x="915.5">Exercise</tspan><tspan x="915.5" dy="10.6">every</tspan><tspan x="915.5" dy="10.6">day</tspan></text></g>
<g id="r16"><rect class="n" x="937" y="195" width="39" height="39"/><text class="c" x="956.5" y="208.4"><tspan x="956.5">Don't much</tspan><tspan x="956.5" dy="8">activities</tspan><tspan x="956.5" dy="8">while on VC</tspan></text></g>
<g id="r17"><rect class="n" x="855" y="238" width="39" height="39"/><text class="d" x="874.5" y="251.1"><tspan x="874.5">Going on</tspan><tspan x="874.5" dy="8.6">VC just to</tspan><tspan x="874.5" dy="8.6">see family</tspan></text></g>
<g id="r18"><rect class="n" x="896" y="238" width="39" height="39"/><text class="c" x="915.5" y="247.4"><tspan x="915.5">Don't</tspan><tspan x="915.5" dy="8">spend so</tspan><tspan x="915.5" dy="8">much time</tspan><tspan x="915.5" dy="8">on planing</tspan></text></g>
<g id="r19"><rect class="n" x="937" y="238" width="39" height="39"/><text class="c" x="956.5" y="251.4"><tspan x="956.5">More fun</tspan><tspan x="956.5" dy="8">going on VC</tspan><tspan x="956.5" dy="8">with friends</tspan></text></g>
<g id="r20"><rect class="n" x="855" y="285" width="39" height="39"/><text class="d" x="874.5" y="298.1"><tspan x="874.5">Prefer</tspan><tspan x="874.5" dy="8.6">Adult only</tspan><tspan x="874.5" dy="8.6">resorts</tspan></text></g>
<g id="r21"><rect class="n" x="896" y="285" width="39" height="39"/><text class="f" x="915.5" y="296.6"><tspan x="915.5">Taking</tspan><tspan x="915.5" dy="10.6">vacation</tspan><tspan x="915.5" dy="10.6">to relax</tspan></text></g>
<g id="r22"><rect class="n" x="937" y="285" width="39" height="39"/><text class="f" x="956.5" y="296.6"><tspan x="956.5">Jetski</tspan><tspan x="956.5" dy="10.6">and zip</tspan><tspan x="956.5" dy="10.6">lining</tspan></text></g>
<g id="r23"><rect class="n" x="855" y="327" width="39" height="39"/><text class="b" x="874.5" y="337.7"><tspan x="874.5">Like</tspan><tspan x="874.5" dy="7">museum</tspan><tspan x="874.5" dy="7">but not</tspan><tspan x="874.5" dy="7">priorites</tspan></text></g>
<g id="r24"><rect class="n" x="896" y="327" width="39" height="39"/><text class="e" x="915.5" y="339.3"><tspan x="915.5">Hotel</tspan><tspan x="915.5" dy="9.6">with</tspan><tspan x="915.5" dy="9.6">Kicten</tspan></text></g>
<g id="r25"><rect class="n" x="937" y="327" width="39" height="39"/><text class="e" x="956.5" y="339.3"><tspan x="956.5">Expedia</tspan><tspan x="956.5" dy="9.6">&amp; Google</tspan><tspan x="956.5" dy="9.6">flight</tspan></text><rect x="942" y="342" width="36" height="19" fill="#fff" fill-opacity="0.45"/><circle cx="972" cy="355" r="3.5" fill="none" stroke="#e6e6e6" stroke-width="1"/></g>
</g>
</svg>
